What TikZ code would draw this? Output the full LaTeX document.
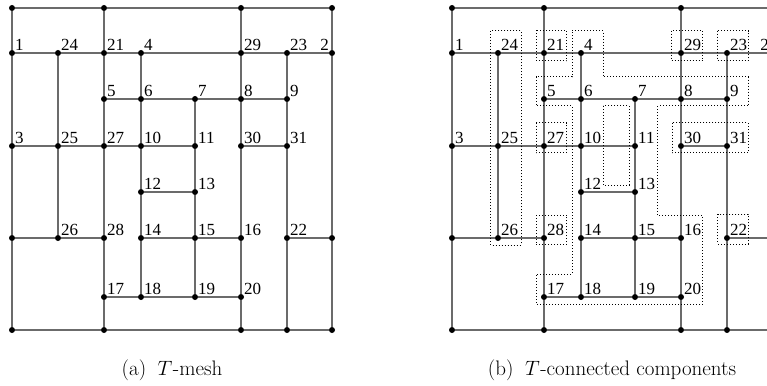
\documentclass[tikz,border=0pt]{standalone}
\usepackage{fontspec}
\newfontfamily\tagfont{Liberation Serif}

\begin{document}
\begin{tikzpicture}[x=1pt,y=-1pt]
    \tikzstyle{vertex}=[circle,fill=black,minimum size=6pt,inner sep=0pt]
    \tikzstyle{edge}=[draw=black!58,line width=1.2pt]
    \tikzstyle{tag}=[font=\tagfont\fontsize{17}{17}\selectfont,inner sep=0pt]
    \tikzstyle{comp}=[draw=black,line width=1pt,dash pattern=on 1pt off 2pt]
    \tikzstyle{caption}=[font=\fontsize{21}{21}\selectfont,inner sep=0pt]

    \clip (0,0) rectangle (767,385);

    % Draw both meshes, the second one shifted to the right
    \foreach \p/\dx in {a/0,b/440} {
    \begin{scope}[shift={(\dx,0)}]
        % Vertices with a number
        \foreach \name/\x/\y in {1/12/53, 24/58/53, 21/104/53, 4/141/53, 29/241/53, 23/287/53, 2/332/53,
                5/104/99, 6/141/99, 7/195/99, 8/241/99, 9/287/99,
                3/12/146, 25/58/146, 27/104/146, 10/141/146, 11/195/146, 30/241/146, 31/287/146,
                12/141/192, 13/195/192,
                26/58/238, 28/104/238, 14/141/238, 15/195/238, 16/241/238, 22/287/238,
                17/104/297, 18/141/297, 19/195/297, 20/241/297}
            \node[vertex] (\p-\name) at (\x,\y) {};

        % Vertices on the border without a number
        \foreach \name/\x/\y in {n1/12/8, n2/104/8, n3/241/8, n4/332/8, w/12/238, e/332/238,
                s1/12/330, s2/104/330, s3/241/330, s4/287/330, s5/332/330}
            \node[vertex] (\p-\name) at (\x,\y) {};

        % Numbers, above right of the vertex
        \foreach \name in {1,3,4,...,31}
            \node[tag,anchor=south west] (\p-\name-t) at ([shift={(3,-2.5)}]\p-\name.center) {\name};
        \node[tag,anchor=south east] (\p-2-t) at ([shift={(-3,-2.5)}]\p-2.center) {2};

        % Horizontal lines
        \draw[edge] (\p-n1) -- (\p-n2) -- (\p-n3) -- (\p-n4);
        \draw[edge] (\p-1) -- (\p-24) -- (\p-21) -- (\p-4) -- (\p-29) -- (\p-23) -- (\p-2);
        \draw[edge] (\p-5) -- (\p-6) -- (\p-7) -- (\p-8) -- (\p-9);
        \draw[edge] (\p-3) -- (\p-25) -- (\p-27) -- (\p-10) -- (\p-11);
        \draw[edge] (\p-30) -- (\p-31);
        \draw[edge] (\p-12) -- (\p-13);
        \draw[edge] (\p-w) -- (\p-26) -- (\p-28);
        \draw[edge] (\p-14) -- (\p-15) -- (\p-16);
        \draw[edge] (\p-22) -- (\p-e);
        \draw[edge] (\p-17) -- (\p-18) -- (\p-19) -- (\p-20);
        \draw[edge] (\p-s1) -- (\p-s2) -- (\p-s3) -- (\p-s4) -- (\p-s5);

        % Vertical lines
        \draw[edge] (\p-n1) -- (\p-1) -- (\p-3) -- (\p-w) -- (\p-s1);
        \draw[edge] (\p-24) -- (\p-25) -- (\p-26);
        \draw[edge] (\p-n2) -- (\p-21) -- (\p-5) -- (\p-27) -- (\p-28) -- (\p-17) -- (\p-s2);
        \draw[edge] (\p-4) -- (\p-6) -- (\p-10) -- (\p-12) -- (\p-14) -- (\p-18);
        \draw[edge] (\p-7) -- (\p-11) -- (\p-13) -- (\p-15) -- (\p-19);
        \draw[edge] (\p-n3) -- (\p-29) -- (\p-8) -- (\p-30) -- (\p-16) -- (\p-20) -- (\p-s3);
        \draw[edge] (\p-23) -- (\p-9) -- (\p-31) -- (\p-22) -- (\p-s4);
        \draw[edge] (\p-n4) -- (\p-2) -- (\p-e) -- (\p-s5);
    \end{scope}
    }

    % T-connected components of the second mesh
    \begin{scope}[shift={(440,0)}]
        \draw[comp] (50.7,31) rectangle (81,245);
        \draw[comp] (96,30.5) rectangle (126.7,60.7);
        \draw[comp] (96,122.7) rectangle (126.7,152.7);
        \draw[comp] (96,215) rectangle (126.7,244.7);
        \draw[comp] (231.7,30.7) rectangle (262.7,60.7);
        \draw[comp] (277.7,30.7) rectangle (308.3,60.7);
        \draw[comp] (277.7,214.3) rectangle (308.3,244);
        \draw[comp] (232.3,122.7) rectangle (308.3,152.7);
        \draw[comp] (132,31) -- (163,31) -- (163,76.7) -- (308.3,76.7) -- (308.3,106)
            -- (217.7,106) -- (217.7,215.7) -- (262.7,215.7) -- (262.7,304) -- (96,304)
            -- (96,274) -- (132,274) -- (132,106) -- (96,106) -- (96,76.7) -- (132,76.7) -- cycle;
        \draw[comp] (163,106) rectangle (189,185);
    \end{scope}

    % Captions
    \node[caption,anchor=base] (cap-a) at (172,375) {(a)\hspace{0.55em}$T$\kern0.5pt-mesh};
    \node[caption,anchor=base] (cap-b) at (612,375) {(b)\hspace{0.55em}$T$\kern0.5pt-connected components};
\end{tikzpicture}
\end{document}
